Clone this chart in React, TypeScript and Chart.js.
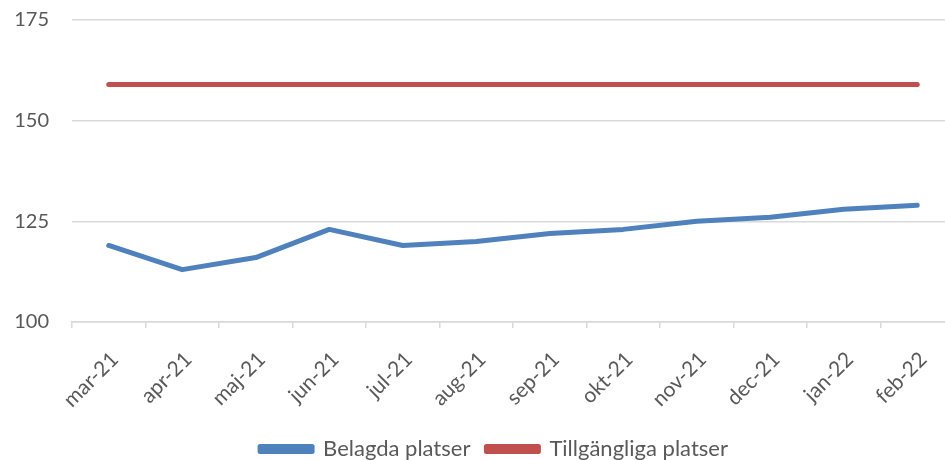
import React, { useEffect, useRef } from "react";
import { Chart, registerables } from "chart.js";

Chart.register(...registerables);

const categories = ["mar-21", "apr-21", "maj-21", "jun-21", "jul-21", "aug-21", "sep-21", "okt-21", "nov-21", "dec-21", "jan-22", "feb-22"];
const belagda = [119, 113, 116, 123, 119, 120, 122, 123, 125, 126, 128, 129];
const tillgangliga = [159, 159, 159, 159, 159, 159, 159, 159, 159, 159, 159, 159];
const yTicks = [100, 125, 150, 175];

const FONT = "Lato, 'Open Sans', sans-serif";
const TEXT = "#595959";

export default function App() {
  const ref = useRef<HTMLCanvasElement | null>(null);
  useEffect(() => {
    document.body.style.margin = "0";
    const ctx = ref.current!;
    const chart = new Chart(ctx, {
      type: "line",
      data: {
        labels: categories,
        datasets: [
          {
            label: "Belagda platser",
            data: belagda,
            borderColor: "#4F81BD",
            backgroundColor: "#4F81BD",
            borderWidth: 5,
            borderCapStyle: "round",
            borderJoinStyle: "round",
            pointRadius: 0,
            tension: 0,
          },
          {
            label: "Tillgängliga platser",
            data: tillgangliga,
            borderColor: "#C0504D",
            backgroundColor: "#C0504D",
            borderWidth: 5,
            borderCapStyle: "round",
            borderJoinStyle: "round",
            pointRadius: 0,
            tension: 0,
          },
        ],
      },
      options: {
        animation: false,
        responsive: false,
        maintainAspectRatio: false,
        layout: { padding: { left: 0, right: 0, top: 20, bottom: -10 } },
        plugins: {
          tooltip: { enabled: false },
          legend: {
            position: "bottom",
            labels: {
              boxWidth: 52,
              boxHeight: 5,
              padding: 16,
              color: TEXT,
              font: { family: FONT, size: 22 },
            },
          },
        },
        scales: {
          x: {
            offset: true,
            grid: { display: true, drawOnChartArea: false, drawTicks: true, tickLength: 6, color: "#d9d9d9", lineWidth: 1.5, offset: true },
            border: { display: true, color: "#d9d9d9", width: 1.5 },
            ticks: { maxRotation: 45, minRotation: 45, autoSkip: false, color: TEXT, font: { family: FONT, size: 21 }, padding: 19, labelOffset: 6 },
            afterFit: (s: any) => { s.height = 100; s.paddingLeft = 0; s.paddingRight = 0; },
          },
          y: {
            min: 100,
            max: 175,
            afterBuildTicks: (s: any) => { s.ticks = yTicks.map((v) => ({ value: v })); },
            grid: { color: "#d9d9d9", lineWidth: 1.5, drawTicks: false },
            border: { display: false },
            ticks: { color: TEXT, font: { family: FONT, size: 20 }, padding: 23 },
            afterFit: (s: any) => { s.width = 72; s.paddingTop = 0; s.paddingBottom = 0; },
          },
          y2: {
            position: "right",
            min: 100,
            max: 175,
            grid: { display: false, drawOnChartArea: false, drawTicks: false },
            border: { display: false },
            ticks: { display: false },
            afterFit: (s: any) => { s.width = 34; s.paddingTop = 0; s.paddingBottom = 0; },
          },
        },
      },
    });
    return () => chart.destroy();
  }, []);
  return (
    <div style={{ width: 945, height: 460, overflow: "hidden", position: "relative", background: "#fff" }}>
      <canvas ref={ref} width={988} height={460} style={{ display: "block", width: 988, height: 460 }} />
    </div>
  );
}
